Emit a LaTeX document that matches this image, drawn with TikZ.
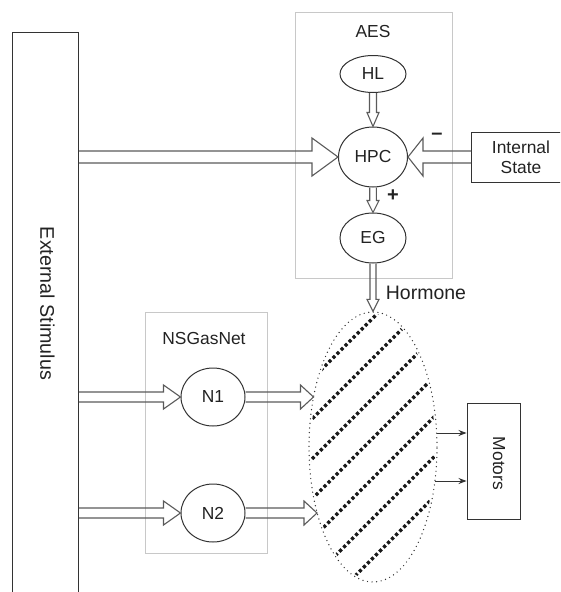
\documentclass[tikz,border=0pt]{standalone}
\usepackage{fontspec}
\setmainfont{Liberation Sans}
\usetikzlibrary{shapes.geometric,calc,arrows.meta}
\definecolor{ln}{HTML}{333333}
\definecolor{lg}{HTML}{C8C8C8}
\definecolor{ar}{HTML}{5A5A5A}
\definecolor{tx}{HTML}{222222}
\newcommand{\hollowarrow}[5]{%
  \path ($(#2)!#5!(#1)$) coordinate (ha-h);
  \draw[hol] ($(#1)!#3!90:(#2)$) -- ($(ha-h)!#3!90:(#2)$) -- ($(ha-h)!#4!90:(#2)$) -- (#2)
     -- ($(ha-h)!#4!-90:(#2)$) -- ($(ha-h)!#3!-90:(#2)$) -- ($(#1)!#3!-90:(#2)$);}
\begin{document}
\begin{tikzpicture}[x=1pt,y=-1pt,
  txt/.style={inner sep=0pt, text=tx, font=\fontsize{17.4pt}{20pt}\selectfont},
  ell/.style={ellipse, draw=ln, line width=1pt, inner sep=0pt, text=tx, font=\fontsize{17.4pt}{20pt}\selectfont},
  box/.style={rectangle, draw=ln, line width=0.95pt, inner sep=0pt},
  graybox/.style={rectangle, draw=lg, line width=1pt, inner sep=0pt},
  gasell/.style={ellipse, draw=ln, line width=1.4pt, line cap=round, dash pattern=on 0pt off 4.6pt, inner sep=0pt},
  hatch/.style={draw=black!90, line width=3.2pt, dash pattern=on 3.2pt off 2.5pt},
  hol/.style={draw=ar, line width=1.1pt, line join=miter},
  thinarr/.style={draw=ln, line width=1pt, -{Stealth[length=8pt,width=6pt]}}]
\useasboundingbox (0,0) rectangle (560,592);
\clip (0,0) rectangle (560,592);
% containers
\node[graybox, anchor=north west, minimum width=157pt, minimum height=266pt] (aes) at (295,12) {};
\node[txt] (aeslbl) at (373,32) {AES};
\node[graybox, anchor=north west, minimum width=122pt, minimum height=241pt] (ns) at (145,312) {};
\node[txt] (nslbl) at (204,339) {NSGasNet};
% external stimulus
\node[box, anchor=north west, minimum width=66pt, minimum height=600pt] (ext) at (12,32) {};
\node[txt, font=\fontsize{19.7pt}{22pt}\selectfont, rotate=-90] (extlbl) at (47.5,303.5) {External Stimulus};
% AES nodes
\node[ell, minimum width=66pt, minimum height=37pt] (hl) at (373,74) {HL};
\node[ell, minimum width=69pt, minimum height=60pt] (hpc) at (373,157) {HPC};
\node[ell, minimum width=66pt, minimum height=50pt] (eg) at (373,238) {EG};
% internal state
\node[box, anchor=west, minimum width=100pt, minimum height=50pt] (is) at (471,157) {};
\node[txt, align=center] (islbl) at (521,157) {Internal\\State};
% NSGasNet nodes
\node[ell, minimum width=64pt, minimum height=58pt] (n1) at (213,397) {N1};
\node[ell, minimum width=64pt, minimum height=58pt] (n2) at (213,513) {N2};
% gas ellipse
\node[gasell, minimum width=128pt, minimum height=270pt] (gas) at (373,447) {};
\begin{scope}
  \clip (373,447) ellipse [x radius=62, y radius=133];
  \foreach \c in {691,731,...,931} \draw[hatch] (\c-600,600) -- (\c-200,200);
\end{scope}
% motors
\node[box, minimum width=53pt, minimum height=116pt] (mot) at (493.5,461) {};
\node[txt, rotate=-90] (motlbl) at (499,463.5) {Motors};
% labels
\node[txt, font=\fontsize{19.5pt}{22pt}\selectfont] (horm) at (426,292.5) {Hormone};
\node[txt, font=\fontsize{20pt}{22pt}\selectfont\bfseries] (plus) at (393,196) {+};
\node[txt, font=\fontsize{20pt}{22pt}\selectfont\bfseries] (minus) at (437,136) {–};
% hollow arrows
\coordinate (a1s) at (ext.east |- hpc);
\hollowarrow{a1s}{hpc.west}{6pt}{19pt}{26pt}
\hollowarrow{is.west}{hpc.east}{6pt}{19pt}{15pt}
\hollowarrow{hl.south}{hpc.north}{3.5pt}{6pt}{14pt}
\hollowarrow{hpc.south}{eg.north}{3.3pt}{6pt}{12pt}
\hollowarrow{eg.south}{gas.north}{3pt}{6pt}{12pt}
\coordinate (a2s) at (ext.east |- n1);
\hollowarrow{a2s}{n1.west}{5pt}{12pt}{17pt}
\coordinate (t1) at (313.5,397);
\hollowarrow{n1.east}{t1}{5pt}{12pt}{13pt}
\coordinate (a3s) at (ext.east |- n2);
\hollowarrow{a3s}{n2.west}{5pt}{12pt}{17pt}
\coordinate (t2) at (317,513);
\hollowarrow{n2.east}{t2}{5pt}{12pt}{13pt}
% thin arrows to motors
\coordinate (m1) at (436.7,433);
\draw[thinarr] (m1) -- (m1 -| mot.west);
\coordinate (m2) at (434.8,481);
\draw[thinarr] (m2) -- (m2 -| mot.west);
\end{tikzpicture}
\end{document}
